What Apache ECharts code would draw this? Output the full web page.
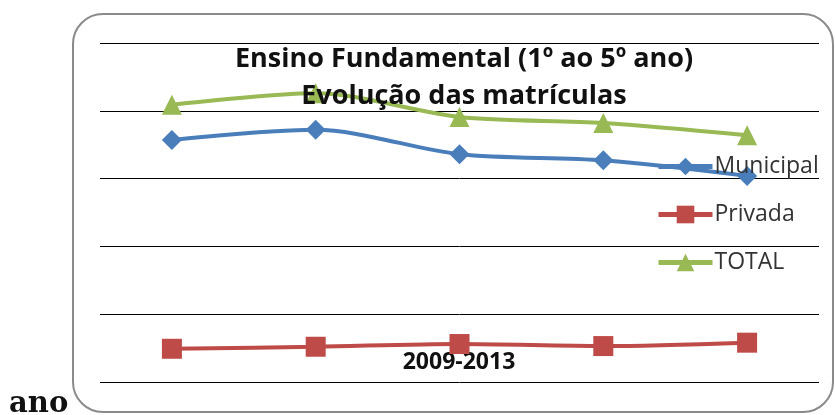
<!DOCTYPE html>
<html>
<head>
<meta charset="utf-8">
<script src="https://cdn.jsdelivr.net/npm/echarts@6/dist/echarts.min.js"></script>
<style>
  html, body { margin: 0; padding: 0; background: #fff; }
  #chart { width: 835px; height: 415px; }
</style>
</head>
<body>
<div id="chart"></div>
<script>
// anos 2009-2013 (sem rótulos no eixo)
const anos = ['2009', '2010', '2011', '2012', '2013'];
const municipal = [3570, 3720, 3360, 3270, 3040];
const privada = [490, 520, 560, 530, 580];
const total = [4090, 4260, 3910, 3820, 3640];

const fonte = '"Open Sans", "Noto Sans", sans-serif';

let myChart = echarts.init(document.getElementById('chart'));
myChart.setOption({
    'animation': false,
    'title': {
        'text': 'Ensino Fundamental (1º ao 5º ano)\nEvolução das matrículas',
        'left': 459,
        'textAlign': 'center',
        'top': 36,
        'textStyle': {
            'fontFamily': fonte,
            'fontWeight': 'bold',
            'fontSize': 27,
            'lineHeight': 37,
            'color': '#111'
        }
    },
    'legend': {
        'orient': 'vertical',
        'left': 651,
        'top': 150,
        'itemWidth': 54,
        'itemHeight': 22,
        'itemGap': 25,
        'lineStyle': { 'width': 5 },
        'textStyle': {
            'fontFamily': fonte,
            'fontSize': 23,
            'lineHeight': 22,
            'color': '#333',
            'padding': [0, 0, 0, -3]
        },
        'data': ['Municipal', 'Privada', 'TOTAL']
    },
    'grid': {
        'left': 100,
        'right': 16,
        'top': 43,
        'bottom': 33
    },
    'xAxis': {
        'type': 'category',
        'data': anos,
        'axisLine': { 'show': false },
        'axisTick': { 'show': false },
        'axisLabel': { 'show': false }
    },
    'yAxis': {
        'type': 'value',
        'min': 0,
        'max': 5000,
        'interval': 1000,
        'axisLabel': { 'show': false },
        'splitLine': { 'lineStyle': { 'color': '#000', 'width': 1 } }
    },
    'graphic': [{
        'type': 'rect',
        'shape': { 'x': 73, 'y': 14, 'width': 760, 'height': 398, 'r': 30 },
        'style': { 'fill': 'none', 'stroke': '#8a8a8a', 'lineWidth': 2 },
        'z': -1
    }, {
        'type': 'text',
        'x': 459,
        'y': 362,
        'style': {
            'text': '2009-2013',
            'align': 'center',
            'verticalAlign': 'middle',
            'font': 'bold 23px ' + fonte,
            'fill': '#111'
        }
    }, {
        'type': 'text',
        'x': 9,
        'y': 404,
        'style': {
            'text': 'ano',
            'verticalAlign': 'middle',
            'font': 'bold 29px "DejaVu Serif", serif',
            'fill': '#111'
        }
    }],
    'series': [{
        'name': 'Municipal',
        'type': 'line',
        'smooth': 0.3,
        'data': municipal,
        'symbol': 'diamond',
        'symbolSize': 20,
        'color': '#4a7ebb',
        'lineStyle': { 'width': 4 }
    }, {
        'name': 'Privada',
        'type': 'line',
        'smooth': 0.3,
        'data': privada,
        'symbol': 'rect',
        'symbolSize': 20,
        'color': '#be4b48',
        'lineStyle': { 'width': 4 }
    }, {
        'name': 'TOTAL',
        'type': 'line',
        'smooth': 0.3,
        'data': total,
        'symbol': 'triangle',
        'symbolSize': 20,
        'color': '#98b954',
        'lineStyle': { 'width': 4 }
    }]
});
</script>
</body>
</html>
